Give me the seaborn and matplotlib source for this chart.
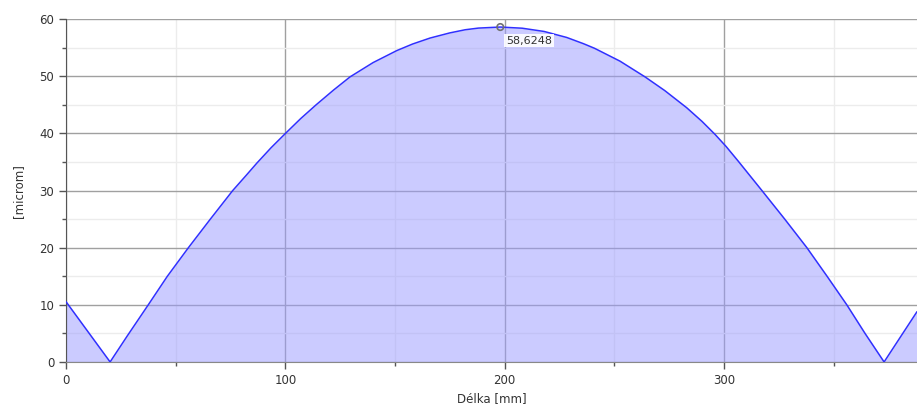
import matplotlib
matplotlib.use("Agg")
import matplotlib.pyplot as plt
import seaborn as sns
import pandas as pd
from matplotlib.ticker import MultipleLocator

# data
delka_mm = [0, 20.1, 28, 37.5, 46.2, 55.8, 65.8, 76, 82, 87, 93.5, 100.3, 107, 114, 122, 129.5,
            140, 150.8, 158, 166, 175, 182, 188, 198, 208, 218, 228.3, 236, 241, 252.6, 264,
            273, 283, 290, 296, 301, 306.6, 317.3, 327.7, 337.8, 347, 356, 364.3, 373, 388]
microm = [10.55, 0, 4.6, 10, 15, 20, 25, 30, 32.6, 34.8, 37.5, 40.1, 42.6, 45, 47.6, 49.9,
          52.4, 54.5, 55.65, 56.7, 57.6, 58.15, 58.44, 58.6248, 58.42, 57.85, 56.8, 55.7, 54.9, 52.65, 49.9,
          47.5, 44.5, 42.1, 39.8, 37.7, 35.1, 30, 25, 20, 15, 10, 5, 0, 8.8]
peak_x = [198]
peak_y = [58.6248]
peak_label = "58,6248"

df = pd.DataFrame({"x": delka_mm, "y": microm})
pk = pd.DataFrame({"x": peak_x, "y": peak_y})

sns.set_style("white")
plt.rcParams["font.family"] = ["DejaVu Sans"]

fig = plt.figure(figsize=(9.17, 4.17), dpi=100)
ax = fig.add_axes([0.072, 0.132, 0.928, 0.822])

ax.fill_between(df["x"], df["y"], 0, color=(0.6, 0.6, 1.0), alpha=0.5, linewidth=0, zorder=2)
sns.lineplot(data=df, x="x", y="y", ax=ax, color="#3030ff", linewidth=1.1, zorder=3)
sns.scatterplot(data=pk, x="x", y="y", ax=ax, s=22, facecolor="none",
                edgecolor="#707070", linewidth=1.2, zorder=4)
ax.annotate(peak_label, (peak_x[0], peak_y[0]), xytext=(4, -12), textcoords="offset points",
            fontsize=8, color="#333333", zorder=5,
            bbox=dict(boxstyle="square,pad=0.15", facecolor="white", edgecolor="none", alpha=0.9))

ax.set_xlim(0, 388)
ax.set_ylim(0, 60)
ax.xaxis.set_major_locator(MultipleLocator(100))
ax.xaxis.set_minor_locator(MultipleLocator(50))
ax.yaxis.set_major_locator(MultipleLocator(10))
ax.yaxis.set_minor_locator(MultipleLocator(5))

ax.grid(which="major", color="#a0a0a0", linewidth=1.0, zorder=1)
ax.grid(which="minor", color="#ececec", linewidth=1.0, zorder=1)
ax.set_axisbelow(True)

for s in ["top", "right"]:
    ax.spines[s].set_visible(False)
ax.spines["left"].set_color("#555555")
ax.spines["bottom"].set_color("#888888")
ax.tick_params(which="major", direction="out", length=5, width=1, color="#555555",
               labelsize=8.5, labelcolor="#333333", left=True, bottom=True)
ax.tick_params(which="minor", direction="out", length=3, width=1, color="#555555",
               left=True, bottom=True)

ax.set_xlabel("Délka [mm]", fontsize=8.5, color="#333333", labelpad=4)
ax.set_ylabel("[microm]", fontsize=8.5, color="#333333", labelpad=10)

fig.savefig("out.png", dpi=100)
